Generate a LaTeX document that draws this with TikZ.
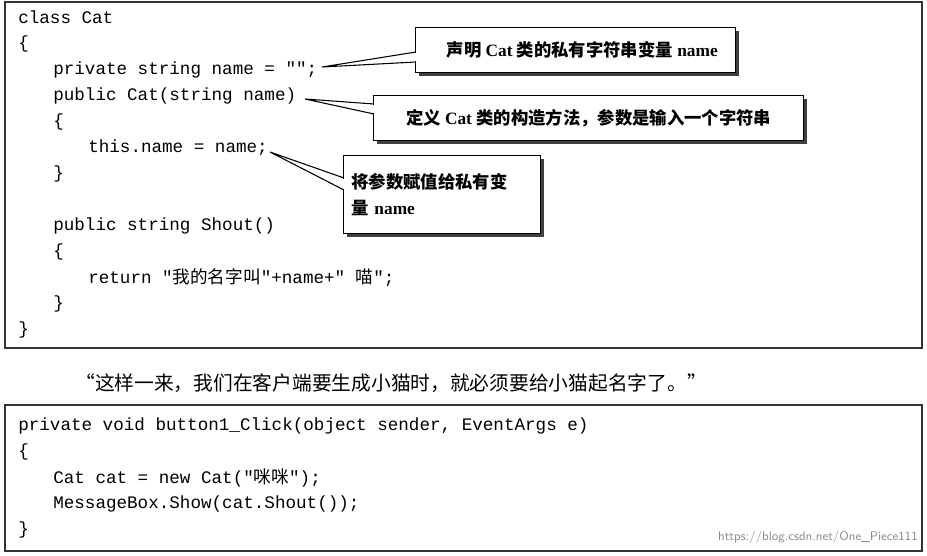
\documentclass[tikz,border=0pt]{standalone}
\usepackage{fontspec}
\setmainfont{Liberation Serif}
\setmonofont{Liberation Mono}
\newfontfamily\cjk{Noto Sans CJK SC}
\begin{document}
\begin{tikzpicture}[x=0.75pt,y=-0.75pt,
  frame/.style={draw=black!80,line width=0.8pt},
  code/.style={anchor=west,inner sep=0,font=\ttfamily\fontsize{13.2}{14}\selectfont},
  call/.style={draw,fill=white,line width=0.8pt,inner sep=0,font=\fontsize{13}{20}\selectfont,align=left},
  shad/.style={fill=black!75},
  tail/.style={draw,fill=white,line width=0.8pt,line join=miter}]
\useasboundingbox (0,0) rectangle (927,556);
\fill[white] (0,0) rectangle (927,556);
\draw[frame] (5,2) rectangle (922,348);
\draw[frame] (5,405) rectangle (922,551);
% code top
\node[code] (c1) at (18,17) {class Cat};
\node[code] (c2) at (18,44) {\{};
\node[code] (c3) at (53,70) {private string name = "";};
\node[code] (c4) at (53,96) {public Cat(string name)};
\node[code] (c5) at (53,122) {\{};
\node[code] (c6) at (88,148) {this.name = name;};
\node[code] (c7) at (53,174) {\}};
\node[code] (c8) at (53,226) {public string Shout()};
\node[code] (c9) at (53,252) {\{};
\node[code] (c10) at (88,278) {return "{\cjk 我的名字叫}"+name+" {\cjk 喵}";};
\node[code] (c11) at (53,304) {\}};
\node[code] (c12) at (18,330) {\}};
% callouts
\coordinate (t1) at (322,67);
\coordinate (t2) at (305,99);
\coordinate (t3) at (270,152);
\fill[shad] (419,31) rectangle (739,76);
\fill[shad] (377,99) rectangle (807,144);
\fill[shad] (347,159) rectangle (544,237);
\draw[tail] (t1) -- (416,52) -- (416,62) -- cycle;
\draw[tail] (t2) -- (374,104) -- (374,114) -- cycle;
\draw[tail] (t3) -- (344,178) -- (344,190) -- cycle;
\node[call,minimum width=240pt,minimum height=33.75pt,anchor=north west] (b1) at (415,27) {\hspace*{10pt}{\cjk\bfseries 声明} \textbf{Cat} {\cjk\bfseries 类的私有字符串变量} \textbf{name}};
\node[call,minimum width=322.5pt,minimum height=33.75pt,anchor=north west] (b2) at (373,95) {{\cjk\bfseries 定义} \textbf{Cat} {\cjk\bfseries 类的构造方法，参数是输入一个字符串}};
\node[call,minimum width=147.75pt,minimum height=58.5pt,anchor=north west,text width=136pt] (b3) at (343,155) {{\cjk\bfseries 将参数赋值给私有变}\\{\cjk\bfseries 量} \textbf{name}};
\draw[white,line width=1pt] (416,53) -- (416,61) (374,105) -- (374,113) (344,179) -- (344,189);
% middle text
\node[anchor=west,inner sep=0,font=\cjk\fontsize{14.8}{16}\selectfont] (mid) at (75,383) {“这样一来，我们在客户端要生成小猫时，就必须要给小猫起名字了。”};
% bottom code
\node[code] (d1) at (18,426) {private void button1\_Click(object sender, EventArgs e)};
\node[code] (d2) at (18,452) {\{};
\node[code] (d3) at (53,478) {Cat cat = new Cat("{\cjk 咪咪}");};
\node[code] (d4) at (53,504) {MessageBox.Show(cat.Shout());};
\node[code] (d5) at (18,530) {\}};
\node[anchor=east,inner sep=0,text=black!45,font=\sffamily\fontsize{9.4}{12}\selectfont] (wm) at (918,537) {https://blog.csdn.net/One\_Piece111};
\end{tikzpicture}
\end{document}
